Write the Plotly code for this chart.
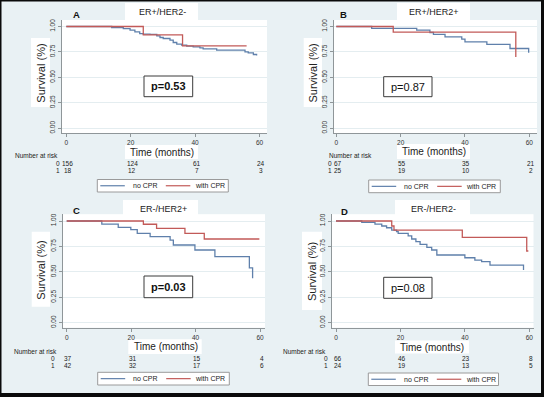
import plotly.graph_objects as go

W, H = 544, 397
FONT = "Liberation Sans, Arial, sans-serif"
BLUE = "#5f80ab"
RED = "#c25a58"
BG = "#e9f1f4"
AXC = "#8f9699"

# ---------------- data ----------------
panel_letters = ["A", "B", "C", "D"]
panel_titles = ["ER+/HER2-", "ER+/HER2+", "ER-/HER2+", "ER-/HER2-"]
p_values = ["p=0.53", "p=0.87", "p=0.03", "p=0.08"]
p_bold = [True, False, True, False]
series_names = ["no CPR", "with CPR"]
group_labels = ["0", "1"]
x_ticks = [0, 20, 40, 60]
y_ticks = [0, 0.25, 0.5, 0.75, 1.0]
y_ticktext = ["0.00", "0.25", "0.50", "0.75", "1.00"]

# Panel A (ER+/HER2-)
a_no_t = [0, 14.1, 17.7, 19.8, 21.3, 22.8, 23.9, 26.0, 28.1, 29.1, 30.1, 32.2, 33.2, 34.3, 35.8, 37.4,
          39.4, 41.5, 42.5, 46.7, 55.5, 56.5, 58.1, 59.1]
a_no_s = [1.0, 0.99, 0.98, 0.964, 0.947, 0.931, 0.925, 0.922, 0.908, 0.892, 0.882, 0.866, 0.843, 0.826,
          0.817, 0.807, 0.80, 0.79, 0.78, 0.768, 0.751, 0.741, 0.725, 0.715]
a_cpr_t = [0, 23.9, 36.1, 56.0]
a_cpr_s = [1.0, 0.918, 0.81, 0.81]

# Panel B (ER+/HER2+)
b_no_t = [0, 11.0, 25.0, 29.1, 30.2, 33.8, 39.0, 40.0, 46.8, 54.0, 59.8, 60.0]
b_no_s = [1.0, 0.982, 0.964, 0.941, 0.922, 0.898, 0.875, 0.849, 0.824, 0.784, 0.748, 0.748]
b_cpr_t = [0, 17.7, 55.8]
b_cpr_s = [1.0, 0.944, 0.70]

# Panel C (ER-/HER2+)
c_no_t = [0, 10.9, 16.0, 19.9, 21.9, 25.9, 32.1, 33.1, 39.8, 46.0, 56.7, 57.7]
c_no_s = [1.0, 0.97, 0.938, 0.915, 0.879, 0.846, 0.813, 0.764, 0.715, 0.649, 0.54, 0.436]
c_cpr_t = [0, 23.8, 27.9, 36.7, 42.7, 59.8]
c_cpr_s = [1.0, 0.968, 0.928, 0.879, 0.823, 0.823]

# Panel D (ER-/HER2-)
d_no_t = [0, 8.0, 12.1, 14.2, 15.7, 17.3, 18.8, 19.3, 22.4, 23.5, 24.8, 26.1, 28.2, 29.7, 31.3,
          40.0, 43.1, 45.2, 47.8, 58.2]
d_no_s = [1.0, 0.987, 0.97, 0.951, 0.934, 0.911, 0.895, 0.879, 0.853, 0.823, 0.797, 0.77, 0.741,
          0.715, 0.666, 0.639, 0.616, 0.60, 0.567, 0.518]
d_cpr_t = [0, 17.3, 18.0, 39.2, 59.2, 59.7]
d_cpr_s = [1.0, 0.951, 0.911, 0.84, 0.705, 0.705]

# Numbers at risk at months 0, 20, 40, 60
risk_a_no = [156, 124, 61, 24]
risk_a_cpr = [18, 12, 7, 3]
risk_b_no = [67, 55, 35, 21]
risk_b_cpr = [25, 19, 10, 2]
risk_c_no = [37, 31, 15, 4]
risk_c_cpr = [42, 32, 17, 6]
risk_d_no = [66, 46, 23, 8]
risk_d_cpr = [24, 19, 13, 5]

curves = [
    ((a_no_t, a_no_s), (a_cpr_t, a_cpr_s)),
    ((b_no_t, b_no_s), (b_cpr_t, b_cpr_s)),
    ((c_no_t, c_no_s), (c_cpr_t, c_cpr_s)),
    ((d_no_t, d_no_s), (d_cpr_t, d_cpr_s)),
]
risks = [
    (risk_a_no, risk_a_cpr),
    (risk_b_no, risk_b_cpr),
    (risk_c_no, risk_c_cpr),
    (risk_d_no, risk_d_cpr),
]

# ---------------- layout geometry (pixels) ----------------
panels = [
    dict(plot=(62, 20, 267, 133.3), xr=[-1.34, 62.33], yr=[-0.050, 1.064],
         letter=(76, 15), title_box=(125, 3, 198, 22), title=(162.5, 12),
         ytitle_box=(31, 38, 50, 107), ytitle=(40.7, 73),
         xtitle_box=(125, 145, 198, 159), xtitle=(162, 152),
         pbox=(144, 76, 192.7, 96.7),
         risk_lbl=(12.7, 155.5), grp_x=62.3, rows=(163, 170),
         legend=(97.3, 179.5, 228.3, 192)),
    dict(plot=(333.7, 20, 537, 133.3), xr=[-0.81, 62.39], yr=[-0.050, 1.064],
         letter=(343.7, 15), title_box=(397, 3, 470, 22), title=(434, 12),
         ytitle_box=(303.7, 38, 322, 107), ytitle=(312.5, 73),
         xtitle_box=(397, 144, 470, 159), xtitle=(433.7, 151.5),
         pbox=(383.7, 76.7, 432, 96.7),
         risk_lbl=(327, 155), grp_x=334, rows=(163, 170),
         legend=(368.7, 180, 500.3, 192.7)),
    dict(plot=(62.7, 214.2, 265, 327.7), xr=[-1.24, 61.55], yr=[-0.049, 1.067],
         letter=(76, 210.7), title_box=(123, 200, 198, 217), title=(163.3, 209),
         ytitle_box=(31.7, 231.7, 50, 306.7), ytitle=(40.7, 270),
         xtitle_box=(128.3, 339.3, 201.7, 354), xtitle=(165.8, 346.5),
         pbox=(144, 276, 192.7, 297.7),
         risk_lbl=(12, 351), grp_x=57, rows=(358.5, 365.5),
         legend=(97.7, 372.3, 229.3, 385)),
    dict(plot=(332, 214.2, 533.5, 327.7), xr=[-1.24, 61.3], yr=[-0.049, 1.067],
         letter=(344.7, 211), title_box=(395, 200, 470, 217), title=(433.8, 209),
         ytitle_box=(302, 231.7, 322, 310), ytitle=(311.5, 271.5),
         xtitle_box=(395, 340.5, 469, 353.5), xtitle=(432, 347),
         pbox=(383.7, 277.3, 432, 298.3),
         risk_lbl=(281, 351), grp_x=330, rows=(358.5, 365.5),
         legend=(368.3, 373, 498.5, 385.5)),
]


def fx(x):
    return x / W


def fy(y):
    return 1 - y / H


fig = go.Figure()
shapes = []
annotations = []

# outer black frame
for (x0, y0, x1, y1) in [(0, 0, 1.5, H), (0, 0, W, 1.5), (541, 0, W, H), (0, 393, W, H)]:
    shapes.append(dict(type="rect", xref="paper", yref="paper", x0=fx(x0), x1=fx(x1),
                       y0=fy(y0), y1=fy(y1), fillcolor="#0a0a0a", line=dict(width=0), layer="below"))

for i, pnl in enumerate(panels):
    k = "" if i == 0 else str(i + 1)
    xa, ya = "xaxis" + k, "yaxis" + k
    xref, yref = "x" + k, "y" + k
    (no_t, no_s), (cp_t, cp_s) = curves[i]
    fig.add_trace(go.Scatter(x=no_t, y=no_s, mode="lines", line=dict(color=BLUE, width=1.3, shape="hv"),
                             name=series_names[0], showlegend=False, xaxis=xref, yaxis=yref))
    fig.add_trace(go.Scatter(x=cp_t, y=cp_s, mode="lines", line=dict(color=RED, width=1.3, shape="hv"),
                             name=series_names[1], showlegend=False, xaxis=xref, yaxis=yref))

    px0, py0, px1, py1 = pnl["plot"]
    fig.layout[xa] = dict(domain=[fx(px0), fx(px1)], range=pnl["xr"], anchor=yref,
                          tickvals=x_ticks, ticks="outside", ticklen=3, tickcolor=AXC, tickwidth=1,
                          showline=True, linecolor=AXC, linewidth=1, showgrid=False, zeroline=False,
                          tickfont=dict(family=FONT, size=6.5, color="#333333"), fixedrange=True)
    fig.layout[ya] = dict(domain=[fy(py1), fy(py0)], range=pnl["yr"], anchor=xref,
                          tickvals=y_ticks, ticktext=y_ticktext, tickangle=-90,
                          ticks="outside", ticklen=3, tickcolor=AXC, tickwidth=1,
                          showline=True, linecolor=AXC, linewidth=1,
                          showgrid=True, gridcolor="#e4edf0", gridwidth=1, zeroline=False,
                          tickfont=dict(family=FONT, size=6.5, color="#333333"), fixedrange=True)

    # white boxes behind titles (below layer so tick labels stay visible)
    for key in ("title_box", "ytitle_box", "xtitle_box"):
        x0, y0, x1, y1 = pnl[key]
        shapes.append(dict(type="rect", xref="paper", yref="paper", x0=fx(x0), x1=fx(x1),
                           y0=fy(y0), y1=fy(y1), fillcolor="white", line=dict(width=0), layer="below"))
    # p-value box
    x0, y0, x1, y1 = pnl["pbox"]
    shapes.append(dict(type="rect", xref="paper", yref="paper", x0=fx(x0), x1=fx(x1),
                       y0=fy(y0), y1=fy(y1), fillcolor="white", line=dict(color="#3a3a3a", width=1),
                       layer="above"))
    ptxt = "<b>%s</b>" % p_values[i] if p_bold[i] else p_values[i]
    annotations.append(dict(text=ptxt, xref="paper", yref="paper", x=fx((x0 + x1) / 2), y=fy((y0 + y1) / 2),
                            xanchor="center", yanchor="middle", showarrow=False,
                            font=dict(family=FONT, size=11, color="#111111")))

    # panel letter and title
    annotations.append(dict(text="<b>%s</b>" % panel_letters[i], xref="paper", yref="paper",
                            x=fx(pnl["letter"][0]), y=fy(pnl["letter"][1]), xanchor="center", yanchor="middle",
                            showarrow=False, font=dict(family=FONT, size=9.5, color="#111111")))
    annotations.append(dict(text=panel_titles[i], xref="paper", yref="paper",
                            x=fx(pnl["title"][0]), y=fy(pnl["title"][1]), xanchor="center", yanchor="middle",
                            showarrow=False, font=dict(family=FONT, size=9, color="#222222")))
    annotations.append(dict(text="Survival (%)", xref="paper", yref="paper", textangle=-90,
                            x=fx(pnl["ytitle"][0]), y=fy(pnl["ytitle"][1]), xanchor="center", yanchor="middle",
                            showarrow=False, font=dict(family=FONT, size=11, color="#222222")))
    annotations.append(dict(text="Time (months)", xref="paper", yref="paper",
                            x=fx(pnl["xtitle"][0]), y=fy(pnl["xtitle"][1]), xanchor="center", yanchor="middle",
                            showarrow=False, font=dict(family=FONT, size=10, color="#222222")))

    # number at risk table
    annotations.append(dict(text="Number at risk", xref="paper", yref="paper",
                            x=fx(pnl["risk_lbl"][0]), y=fy(pnl["risk_lbl"][1]), xanchor="left", yanchor="middle",
                            showarrow=False, font=dict(family=FONT, size=6.5, color="#222222")))
    for r, row_y in enumerate(pnl["rows"]):
        annotations.append(dict(text=group_labels[r], xref="paper", yref="paper",
                                x=fx(pnl["grp_x"]), y=fy(row_y), xanchor="right", yanchor="middle",
                                showarrow=False, font=dict(family=FONT, size=6.5, color="#222222")))
        for j, t in enumerate(x_ticks):
            annotations.append(dict(text=str(risks[i][r][j]), xref=xref, yref="paper",
                                    x=t, y=fy(row_y), xanchor="center", yanchor="middle", xshift=1.5,
                                    showarrow=False, font=dict(family=FONT, size=6.5, color="#222222")))

    # legend box
    lx0, ly0, lx1, ly1 = pnl["legend"]
    shapes.append(dict(type="rect", xref="paper", yref="paper", x0=fx(lx0), x1=fx(lx1),
                       y0=fy(ly0), y1=fy(ly1), fillcolor="white", line=dict(color="#9a9a9a", width=1),
                       layer="above"))
    ly = (ly0 + ly1) / 2
    for c, (col, off0, off1, toff) in enumerate([(BLUE, 3, 27.5, 33.2), (RED, 68.5, 93, 95.3)]):
        shapes.append(dict(type="line", xref="paper", yref="paper", x0=fx(lx0 + off0), x1=fx(lx0 + off1),
                           y0=fy(ly), y1=fy(ly), line=dict(color=col, width=1.2), layer="above"))
        annotations.append(dict(text=series_names[c], xref="paper", yref="paper",
                                x=fx(lx0 + toff), y=fy(ly), xanchor="left", yanchor="middle",
                                showarrow=False, font=dict(family=FONT, size=7, color="#222222")))

fig.update_layout(
    width=W, height=H, margin=dict(l=0, r=0, t=0, b=0),
    paper_bgcolor=BG, plot_bgcolor="white",
    showlegend=False, shapes=shapes, annotations=annotations,
    font=dict(family=FONT),
)

fig.write_html("out.html", config={"displayModeBar": False},
               post_script="document.body.style.margin='0px';document.body.style.padding='0px';"
                           "document.body.style.overflow='hidden';")
